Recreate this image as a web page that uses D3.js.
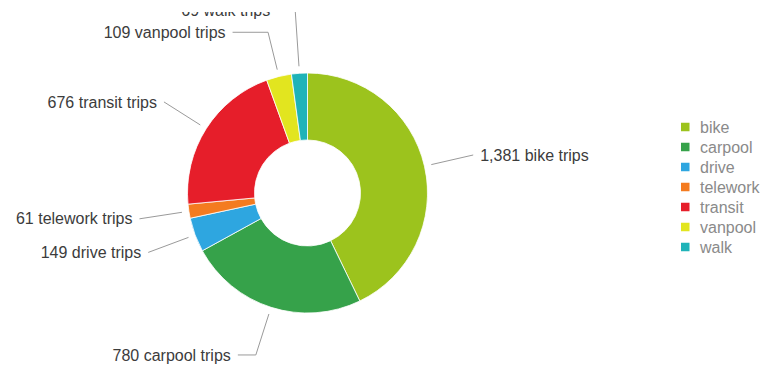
<!DOCTYPE html>
<html><head><meta charset="utf-8">
<script src="https://cdn.jsdelivr.net/npm/d3@7/dist/d3.min.js"></script>
<style>
html,body{margin:0;padding:0;background:#fff;}
svg{display:block;}
text{font-family:"Liberation Sans",Arial,Helvetica,sans-serif;}
</style></head>
<body>
<svg id="chart" width="766" height="369"></svg>
<script>
const categories = ["bike","carpool","drive","telework","transit","vanpool","walk"];
const trips = [1381, 780, 149, 61, 676, 109, 69];
const colors = ["#9cc31d","#36a24a","#2ea6e0","#f47b20","#e61e2a","#e2e51f","#1fb3b8"];

const W = 766, H = 369;
const cx = 307.5, cy = 193, R = 120, r0 = 53;
const svg = d3.select("#chart");

svg.append("defs").append("clipPath").attr("id","clip")
  .append("rect").attr("x",0).attr("y",12).attr("width",W).attr("height",H-12);

const g = svg.append("g").attr("clip-path","url(#clip)");
const data = categories.map((c,i)=>({cat:c, value:trips[i], color:colors[i]}));
const pie = d3.pie().sort(null).value(d=>d.value);
const arcs = pie(data);
const arc = d3.arc().innerRadius(r0).outerRadius(R);

const donut = g.append("g").attr("transform",`translate(${cx},${cy})`);
donut.selectAll("path").data(arcs).join("path")
  .attr("d",arc).attr("fill",d=>d.data.color)
  .attr("stroke","#fff").attr("stroke-width",0.8);

// label layout
const fmt = d3.format(",");
const labels = arcs.map(a=>{
  const m = (a.startAngle+a.endAngle)/2;
  const sx = Math.sin(m), sy = -Math.cos(m);
  return {a, sx, sy, side: sx>=0?1:-1,
    y: cy + 170*sy, hlen: Math.abs(sy)>0.9?18:0,
    text: fmt(a.data.value)+" "+a.data.cat+" trips"};
});
// collision relax on each side
const gap = 22;
[-1,1].forEach(side=>{
  const L = labels.filter(l=>l.side===side).sort((p,q)=>p.y-q.y);
  for(let i=1;i<L.length;i++){
    const ov = gap-(L[i].y-L[i-1].y);
    if(ov>0){ L[i-1].y -= ov*0.75; L[i].y += ov*0.25; L[i].hlen += ov; }
  }
});
labels.forEach(l=>{
  const p1=[cx+127*l.sx, cy+127*l.sy];
  const rr = Math.abs(l.sy)>0.2 ? (l.y-cy)/l.sy : 170;
  const p2=[cx+rr*l.sx, l.y];
  const p3=[p2[0]+l.side*l.hlen, l.y];
  l.tx = p3[0]+l.side*7;
  g.append("polyline").attr("points",[p1,p2,p3].map(p=>p.join(",")).join(" "))
    .attr("fill","none").attr("stroke","#9a9a9a").attr("stroke-width",1);
  g.append("text").attr("x",l.tx).attr("y",l.y).attr("dy","0.35em")
    .attr("text-anchor",l.side>0?"start":"end")
    .attr("font-size",16).attr("fill","#3c3c3c").text(l.text);
});

// legend
const leg = svg.append("g");
const ly = d3.scaleBand().domain(categories).range([117,257]);
categories.forEach((c,i)=>{
  const y = ly(c)+ly.bandwidth()/2;
  leg.append("rect").attr("x",681).attr("y",y-4.25).attr("width",8.5).attr("height",8.5).attr("fill",colors[i]);
  leg.append("text").attr("x",700).attr("y",y).attr("dy","0.35em")
    .attr("font-size",16).attr("fill","#8a8a8a").text(c);
});
</script>
</body></html>
